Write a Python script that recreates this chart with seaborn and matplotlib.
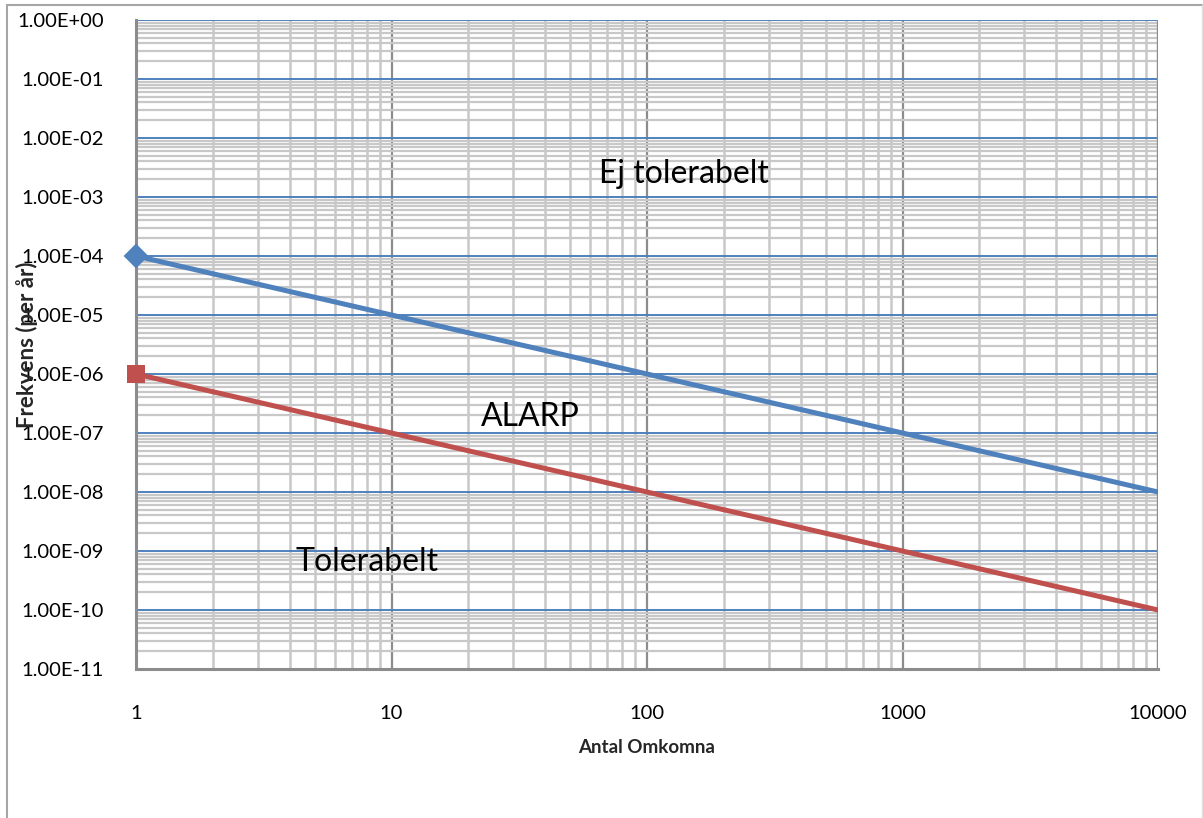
import matplotlib
matplotlib.use("Agg")
import matplotlib.pyplot as plt
import matplotlib.ticker as mticker
from matplotlib.lines import Line2D
import seaborn as sns
import pandas as pd
import numpy as np

# Data
x_values = [1, 10000]
upper_limit = [1e-4, 1e-8]   # blue
lower_limit = [1e-6, 1e-10]  # red
series_names = ["Övre gräns", "Undre gräns"]
y_ticks = [10.0 ** e for e in range(0, -12, -1)]
x_ticks = [1, 10, 100, 1000, 10000]
x_tick_labels = ["1", "10", "100", "1000", "10000"]
region_labels = ["Ej tolerabelt", "ALARP", "Tolerabelt"]
region_x = [140, 35, 8.0]
region_y = [2.5e-3, 1.9e-7, 6.5e-10]

df = pd.DataFrame({
    "x": x_values * 2,
    "y": upper_limit + lower_limit,
    "serie": [series_names[0]] * 2 + [series_names[1]] * 2,
})
first = df.groupby("serie", sort=False).head(1)

sns.set_theme(style="white")
plt.rcParams["font.family"] = ["Lato", "DejaVu Sans"]

fig = plt.figure(figsize=(12.03, 8.18), dpi=100)
W, H = 1203, 818
ax = fig.add_axes([136 / W, 1 - 669 / H, (1158 - 136) / W, (669 - 20) / H])

palette = {series_names[0]: "#4F81BD", series_names[1]: "#C0504D"}
sns.lineplot(data=df, x="x", y="y", hue="serie", palette=palette, ax=ax,
             linewidth=3.6, legend=False, zorder=4)
sns.scatterplot(data=first, x="x", y="y", hue="serie", style="serie",
                markers={series_names[0]: "D", series_names[1]: "s"},
                palette=palette, s=160,
                edgecolor="none", ax=ax, legend=False, zorder=5, clip_on=False)

ax.set_xscale("log")
ax.set_yscale("log")
ax.set_xlim(1, 10000)
ax.set_ylim(1e-11, 1)

ax.set_xticks(x_ticks)
ax.set_xticklabels(x_tick_labels)
ax.set_yticks(y_ticks)
ax.yaxis.set_major_formatter(mticker.FuncFormatter(lambda v, p: f"{v:.2E}"))
ax.xaxis.set_minor_locator(mticker.LogLocator(base=10, subs=np.arange(2, 10), numticks=50))
ax.yaxis.set_minor_locator(mticker.LogLocator(base=10, subs=np.arange(2, 10), numticks=50))
ax.xaxis.set_minor_formatter(mticker.NullFormatter())
ax.yaxis.set_minor_formatter(mticker.NullFormatter())

ax.set_axisbelow(True)
ax.grid(True, which="major", axis="y", color="#4F81BD", linewidth=1.4)
ax.grid(True, which="minor", axis="y", color="#C8C8C8", linewidth=1.6)
ax.grid(True, which="major", axis="x", color="#8C8C8C", linewidth=1.6)
ax.grid(True, which="minor", axis="x", color="#C8C8C8", linewidth=1.8)

for side in ["top", "right"]:
    ax.spines[side].set_visible(False)
for side in ["left", "bottom"]:
    ax.spines[side].set_color("#8C8C8C")
    ax.spines[side].set_linewidth(2.2)
ax.axvline(10000, color="#8C8C8C", linewidth=1.6, zorder=1)

ax.tick_params(axis="both", which="major", direction="out", length=6, width=1.5,
               color="#8C8C8C", labelsize=14.5, labelcolor="black")
ax.tick_params(axis="x", which="major", pad=20)
ax.tick_params(axis="y", which="major", pad=17)
ax.tick_params(axis="both", which="minor", length=0)

ax.set_xlabel("Antal Omkomna", fontsize=13.5, fontweight="bold", labelpad=12)
ax.set_ylabel("Frekvens (per år)", fontsize=16, fontweight="bold")
ax.yaxis.set_label_coords(-0.096, 0.5)

for lab, xx, yy in zip(region_labels, region_x, region_y):
    ax.text(xx, yy, lab, fontsize=23, ha="center", va="center", color="black", zorder=6)

# Outer chart-area border
fig.add_artist(Line2D([7 / W, 7 / W], [0, 1 - 5 / H], transform=fig.transFigure,
                      color="#A6A6A6", linewidth=1.5))
fig.add_artist(Line2D([7 / W, 1202 / W], [1 - 5 / H, 1 - 5 / H], transform=fig.transFigure,
                      color="#A6A6A6", linewidth=1.5))
fig.add_artist(Line2D([1201.5 / W, 1201.5 / W], [0, 1 - 5 / H], transform=fig.transFigure,
                      color="#E0E0E0", linewidth=1.0))

fig.savefig("out.png", dpi=100)
